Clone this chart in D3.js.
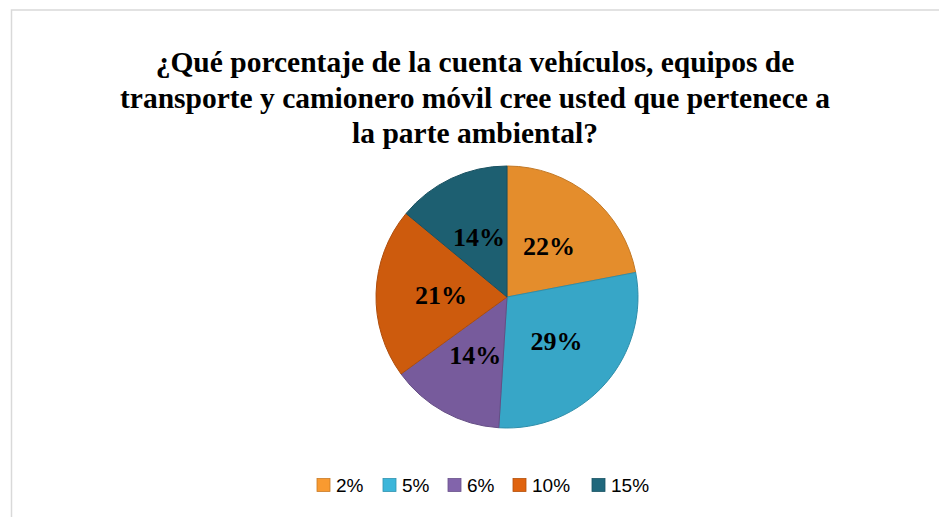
<!DOCTYPE html>
<html>
<head>
<meta charset="utf-8">
<script src="https://cdn.jsdelivr.net/npm/d3@7"></script>
<style>
  body { margin: 0; background: #fff; }
</style>
</head>
<body>
<div id="chart"></div>
<script>
// data
var categories = ['2%', '5%', '6%', '10%', '15%']
var values = [22, 29, 14, 21, 14]
var labels = ['22%', '29%', '14%', '21%', '14%']
var titleLines = ['¿Qué porcentaje de la cuenta vehículos, equipos de',
  'transporte y camionero móvil cree usted que pertenece a',
  'la parte ambiental?']

const svgWidth = 939
const svgHeight = 517
const cx = 507
const cy = 297
const radius = 131

var color = d3.scaleOrdinal()
  .domain(categories)
  .range(['#F99A30', '#3CB6DA', '#8264AB', '#E0630E', '#20687C'])

var svg = d3.select('#chart').append('svg')
  .attr('width', svgWidth)
  .attr('height', svgHeight)

// chart border (runs off the right and bottom of the picture)
svg.append('rect')
  .attr('x', 11.5).attr('y', 10)
  .attr('width', 940).attr('height', 520)
  .attr('fill', '#fff')
  .attr('stroke', '#d9d9d9')
  .attr('stroke-width', 1.5)

var defs = svg.append('defs')
categories.forEach((c, i) => {
  var base = d3.color(color(c))
  var g = defs.append('radialGradient')
    .attr('id', 'grad' + i)
    .attr('gradientUnits', 'userSpaceOnUse')
    .attr('cx', cx).attr('cy', cy).attr('r', radius)
  g.append('stop').attr('offset', '0%').attr('stop-color', base)
  g.append('stop').attr('offset', '86%').attr('stop-color', base.brighter(0.08))
  g.append('stop').attr('offset', '94%').attr('stop-color', base.brighter(0.3))
  g.append('stop').attr('offset', '100%').attr('stop-color', base.darker(0.25))
})

// title
svg.append('text')
  .attr('text-anchor', 'middle')
  .style('font-family', '"Liberation Serif", "Times New Roman", serif')
  .style('font-weight', 'bold')
  .style('font-size', '29.5px')
  .attr('fill', '#000')
  .selectAll('tspan')
  .data(titleLines)
  .join('tspan')
  .attr('x', 475)
  .attr('y', (d, i) => 72 + i * 35.5)
  .text(d => d)

// pie
var pie = d3.pie().sort(null).value(d => d.value)
var arcs = pie(categories.map((c, i) => ({ cat: c, value: values[i], label: labels[i] })))
var arc = d3.arc().innerRadius(0).outerRadius(radius)
var labelArc = d3.arc().innerRadius(66).outerRadius(66)

var graph = svg.append('g')
  .attr('transform', `translate(${cx}, ${cy})`)

graph.selectAll('path')
  .data(arcs)
  .join('path')
  .attr('d', arc)
  .attr('fill', (d, i) => `url(#grad${i})`)
  .attr('stroke', d => d3.color(color(d.data.cat)).darker(0.7))
  .attr('stroke-width', 1)
  .attr('stroke-linejoin', 'round')

graph.selectAll('text')
  .data(arcs)
  .join('text')
  .attr('transform', d => `translate(${labelArc.centroid(d)})`)
  .attr('text-anchor', 'middle')
  .attr('dy', '0.35em')
  .style('font-family', '"Liberation Serif", "Times New Roman", serif')
  .style('font-weight', 'bold')
  .style('font-size', '26px')
  .attr('fill', '#000')
  .text(d => d.data.label)

// legend
var legendX = [317, 383, 448, 513, 592]
var legend = svg.append('g')
var items = legend.selectAll('g')
  .data(categories)
  .join('g')
  .attr('transform', (d, i) => `translate(${legendX[i]}, 485)`)

items.append('rect')
  .attr('x', 0).attr('y', -6.5)
  .attr('width', 13).attr('height', 13)
  .attr('fill', d => color(d))
  .attr('stroke', d => d3.color(color(d)).darker(0.6))
  .attr('stroke-width', 0.8)

items.append('text')
  .attr('x', 19)
  .attr('dy', '0.36em')
  .style('font-family', '"Liberation Sans", Arial, sans-serif')
  .style('font-size', '19px')
  .attr('fill', '#000')
  .text(d => d)
</script>
</body>
</html>
